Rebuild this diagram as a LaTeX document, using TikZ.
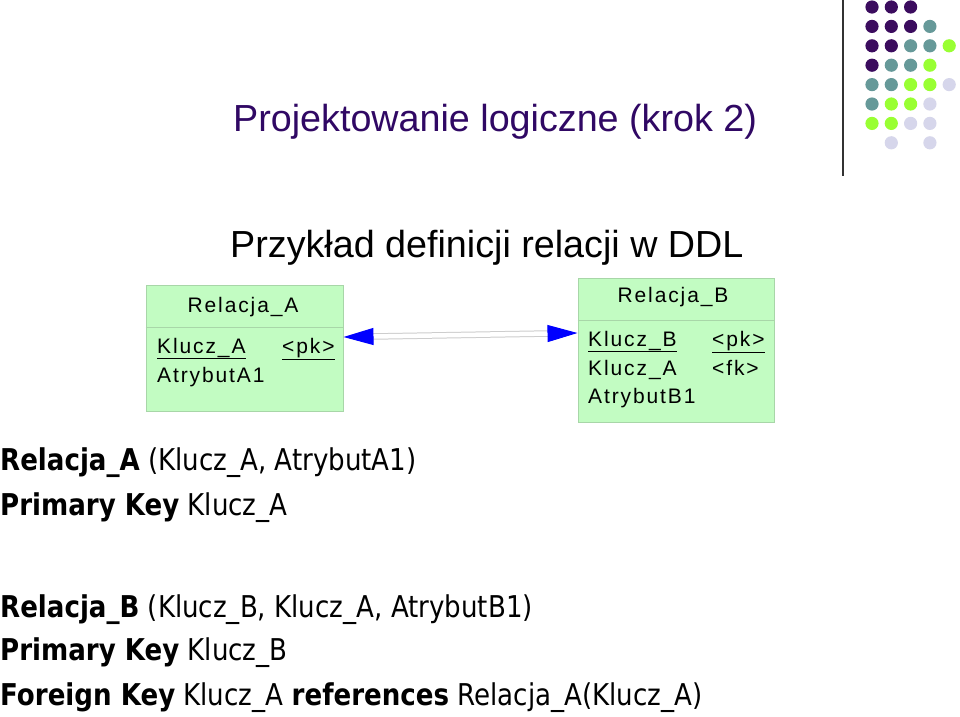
\documentclass[tikz,border=0pt]{standalone}
\usepackage{fontspec}
\setmainfont{Liberation Sans}
\newfontfamily\bodyfont{DejaVu Sans}[FakeStretch=0.87]
\newfontfamily\boxfont{Liberation Sans}[LetterSpace=9]
\usetikzlibrary{arrows.meta}

\definecolor{titlePurple}{RGB}{48,8,100}
\definecolor{boxGreen}{RGB}{194,252,194}
\definecolor{boxBorder}{RGB}{168,214,168}
\definecolor{linkGray}{RGB}{205,205,205}
\definecolor{dotP}{RGB}{59,12,94}
\definecolor{dotT}{RGB}{102,153,153}
\definecolor{dotG}{RGB}{153,255,51}
\definecolor{dotL}{RGB}{214,214,235}

\begin{document}
\begin{tikzpicture}[x=1pt,y=-1pt,
    relbox/.style={draw=boxBorder, fill=boxGreen, line width=1pt, inner sep=0pt},
    boxtxt/.style={anchor=base west, inner sep=0pt, font=\boxfont\fontsize{21}{25}\selectfont},
    headtxt/.style={anchor=base, inner sep=0pt, font=\boxfont\fontsize{21}{25}\selectfont},
    bodytxt/.style={anchor=base west, inner sep=0pt, font=\bodyfont\fontsize{30}{36}\selectfont},
    bigtxt/.style={anchor=base west, inner sep=0pt, font=\fontsize{37.7}{44}\selectfont}]

    \useasboundingbox[fill=white] (0,0) rectangle (960,716);

    % corner ornament
    \draw[line width=1.5pt, black!80] (843,0) -- (843,176);
    \foreach \col/\row/\clr in {0/0/dotP, 1/0/dotP, 2/0/dotP,
        0/1/dotP, 1/1/dotP, 2/1/dotP, 3/1/dotT,
        0/2/dotP, 1/2/dotP, 2/2/dotT, 3/2/dotT, 4/2/dotG,
        0/3/dotP, 1/3/dotT, 2/3/dotT, 3/3/dotG,
        0/4/dotT, 1/4/dotT, 2/4/dotG, 3/4/dotG, 4/4/dotL,
        0/5/dotT, 1/5/dotG, 2/5/dotG, 3/5/dotL,
        0/6/dotG, 1/6/dotG, 2/6/dotL, 3/6/dotL,
        1/7/dotL, 3/7/dotL}
        \fill[\clr] (872+19.3*\col, 7+19.4*\row) circle (6.6pt);

    % titles
    \node[bigtxt, text=titlePurple] (title) at (233,131) {Projektowanie logiczne (krok 2)};
    \node[bigtxt] (subtitle) at (230,257) {Przykład definicji relacji w DDL};

    % Relacja_A
    \node[relbox, minimum width=197pt, minimum height=126pt] (A) at (244.5,348.5) {};
    \coordinate (divA) at (0,327);
    \draw[boxBorder, line width=1pt] (A.west |- divA) -- (A.east |- divA);
    \node[headtxt] (headA) at (243,312) {Relacja\_A};
    \node[boxtxt] (keyA) at (157,353) {\underline{Klucz\_A}};
    \node[boxtxt] (pkA) at (282,353) {\underline{<pk>}};
    \node[boxtxt] (attA) at (157,382) {AtrybutA1};

    % Relacja_B
    \node[relbox, minimum width=196pt, minimum height=144pt] (B) at (676,350) {};
    \coordinate (divB) at (0,320);
    \draw[boxBorder, line width=1pt] (B.west |- divB) -- (B.east |- divB);
    \node[headtxt] (headB) at (673,302) {Relacja\_B};
    \node[boxtxt] (keyB) at (588,346) {\underline{Klucz\_B}};
    \node[boxtxt] (pkB) at (712,346) {\underline{<pk>}};
    \node[boxtxt] (fkeyB) at (588,375) {Klucz\_A};
    \node[boxtxt] (fkB) at (712,375) {<fk>};
    \node[boxtxt] (attB) at (588,403) {AtrybutB1};

    % reference
    \coordinate (endA) at ([yshift=11.5pt]A.east);
    \coordinate (endB) at ([yshift=17pt]B.west);
    \draw[linkGray, double=white, double distance=4.5pt, line width=1pt,
        {Triangle[length=30pt,width=17pt,color=blue,fill=blue]}-{Triangle[length=30pt,width=17pt,color=blue,fill=blue]}]
        (endA) -- (endB);

    % DDL text
    \node[bodytxt] (relA) at (0,470) {\textbf{Relacja\_A} (Klucz\_A, AtrybutA1)};
    \node[bodytxt] (pkeyA) at (0,515) {\textbf{Primary Key} Klucz\_A};
    \node[bodytxt] (relB) at (0,617) {\textbf{Relacja\_B} (Klucz\_B, Klucz\_A, AtrybutB1)};
    \node[bodytxt] (pkeyB) at (0,660) {\textbf{Primary Key} Klucz\_B};
    \node[bodytxt] (fkey) at (0,705) {\textbf{Foreign Key} Klucz\_A \textbf{references} Relacja\_A(Klucz\_A)};
\end{tikzpicture}
\end{document}
